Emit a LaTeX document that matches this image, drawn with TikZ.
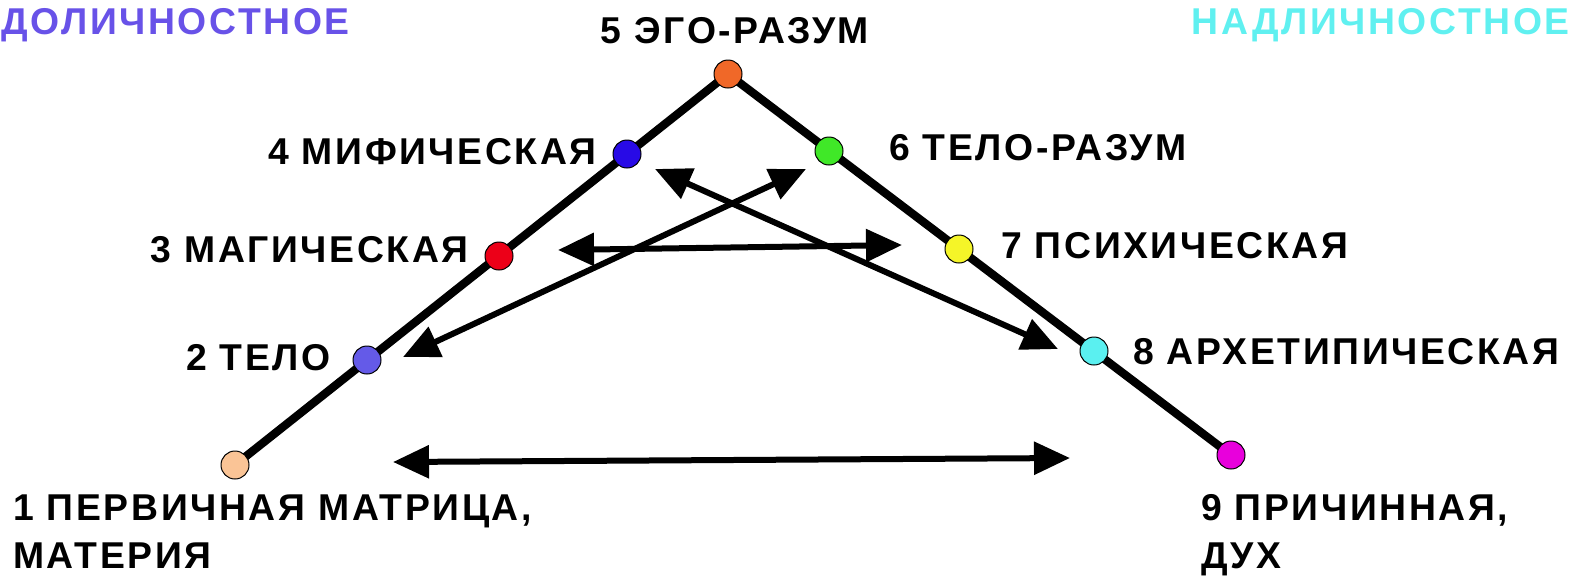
\documentclass[tikz,border=0pt]{standalone}
\usepackage{fontspec}
\setmainfont{Liberation Sans}[LetterSpace=7]
\usepackage{tikz}
\usetikzlibrary{arrows.meta}

\definecolor{dolichColor}{RGB}{104,82,232}
\definecolor{nadlichColor}{RGB}{96,240,240}

\tikzset{
  level/.style={circle,draw=black,line width=0.75,inner sep=0pt,minimum size=21pt},
  levelText/.style={inner sep=0.75pt,align=left,font=\fontsize{28}{36}\selectfont\bfseries},
  twoWay/.style={line width=4.5pt,{Triangle[length=27pt,width=24pt]}-{Triangle[length=27pt,width=24pt]}},
}

\begin{document}
\begin{tikzpicture}[x=0.75pt,y=0.75pt,yscale=-1,xscale=1]
\useasboundingbox (0,0) rectangle (1569,576);

%Corners of the triangle
\coordinate (p1) at (235,465);
\coordinate (p5) at (728,74);
\coordinate (p9) at (1231,455);

%Straight Lines
\draw [line width=6.2pt]  (p1) -- (p5) -- (p9) ;

%Dots
\node [level,fill={rgb,255:red,250;green,196;blue,150}] (d1) at (p1) {};
\node [level,fill={rgb,255:red,100;green,90;blue,232}] (d2) at (367,360) {};
\node [level,fill={rgb,255:red,236;green,0;blue,24}] (d3) at (499,256) {};
\node [level,fill={rgb,255:red,40;green,10;blue,230}] (d4) at (627,154) {};
\node [level,fill={rgb,255:red,240;green,104;blue,40}] (d5) at (p5) {};
\node [level,fill={rgb,255:red,64;green,232;blue,40}] (d6) at (829,151) {};
\node [level,fill={rgb,255:red,245;green,245;blue,40}] (d7) at (959,249) {};
\node [level,fill={rgb,255:red,90;green,240;blue,240}] (d8) at (1094,351) {};
\node [level,fill={rgb,255:red,232;green,0;blue,220}] (d9) at (p9) {};

%Ends of the arrows
\coordinate (botL) at (393,462);
\coordinate (botR) at (1070,458);
\coordinate (midL) at (558,250);
\coordinate (midR) at (902,245);
\coordinate (upL) at (403,357);
\coordinate (upR) at (806,169);
\coordinate (downL) at (655,169);
\coordinate (downR) at (1058,349);

%Arrows
\draw [twoWay] (botL) -- (botR) ;
\draw [twoWay] (midL) -- (midR) ;
\draw [twoWay] (upL) -- (upR) ;
\draw [twoWay] (downL) -- (downR) ;

% Text Node
\node [levelText,anchor=west,text=dolichColor] (preTitle) at (0,25) {ДОЛИЧНОСТНОЕ};
% Text Node
\node [levelText,anchor=east,text=nadlichColor] (transTitle) at (1571,25) {НАДЛИЧНОСТНОЕ};
% Text Node
\node [levelText] (t5) at (735,31) {5 ЭГО-РАЗУМ};
% Text Node
\node [levelText,anchor=east] (t4) at (598,152) {4 МИФИЧЕСКАЯ};
% Text Node
\node [levelText,anchor=west] (t6) at (888,148) {6 ТЕЛО-РАЗУМ};
% Text Node
\node [levelText,anchor=east] (t3) at (470,250) {3 МАГИЧЕСКАЯ};
% Text Node
\node [levelText,anchor=west] (t7) at (1000,246) {7 ПСИХИЧЕСКАЯ};
% Text Node
\node [levelText,anchor=east] (t2) at (332,358) {2 ТЕЛО};
% Text Node
\node [levelText,anchor=west] (t8) at (1132,352) {8 АРХЕТИПИЧЕСКАЯ};
% Text Node
\node [levelText,anchor=north west] (t1) at (12,494) {1 ПЕРВИЧНАЯ МАТРИЦА,\\МАТЕРИЯ};
% Text Node
\node [levelText,anchor=north west] (t9) at (1200,493) {9 ПРИЧИННАЯ,\\ДУХ};

\end{tikzpicture}
\end{document}
